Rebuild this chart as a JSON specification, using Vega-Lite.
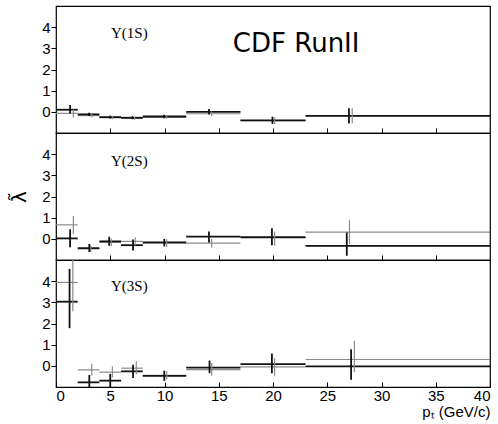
{
  "$schema": "https://vega.github.io/schema/vega-lite/v6.json",
  "padding": {"left": 9, "top": 5, "right": 5, "bottom": 5},
  "spacing": 0,
  "bounds": "flush",
  "datasets": {
    "points": [
      {"state": "1S", "frame": "CS", "ptlo": 0, "pthi": 2, "pt": 1.6, "lambda": -0.07, "lo": -0.27, "hi": 0.12},
      {"state": "1S", "frame": "CS", "ptlo": 2, "pthi": 4, "pt": 3.3, "lambda": -0.18, "lo": -0.26, "hi": -0.1},
      {"state": "1S", "frame": "CS", "ptlo": 4, "pthi": 6, "pt": 5.2, "lambda": -0.28, "lo": -0.35, "hi": -0.21},
      {"state": "1S", "frame": "CS", "ptlo": 6, "pthi": 8, "pt": 7.25, "lambda": -0.3, "lo": -0.37, "hi": -0.23},
      {"state": "1S", "frame": "CS", "ptlo": 8, "pthi": 12, "pt": 10.2, "lambda": -0.25, "lo": -0.33, "hi": -0.17},
      {"state": "1S", "frame": "CS", "ptlo": 12, "pthi": 17, "pt": 14.35, "lambda": -0.09, "lo": -0.2, "hi": 0.02},
      {"state": "1S", "frame": "CS", "ptlo": 17, "pthi": 23, "pt": 20.15, "lambda": -0.42, "lo": -0.58, "hi": -0.26},
      {"state": "1S", "frame": "CS", "ptlo": 23, "pthi": 40, "pt": 27.3, "lambda": -0.18, "lo": -0.54, "hi": 0.18},
      {"state": "1S", "frame": "HX", "ptlo": 0, "pthi": 2, "pt": 1.3, "lambda": 0.1, "lo": -0.08, "hi": 0.32},
      {"state": "1S", "frame": "HX", "ptlo": 2, "pthi": 4, "pt": 3.05, "lambda": -0.12, "lo": -0.2, "hi": -0.04},
      {"state": "1S", "frame": "HX", "ptlo": 4, "pthi": 6, "pt": 5.0, "lambda": -0.25, "lo": -0.32, "hi": -0.18},
      {"state": "1S", "frame": "HX", "ptlo": 6, "pthi": 8, "pt": 7.05, "lambda": -0.28, "lo": -0.35, "hi": -0.21},
      {"state": "1S", "frame": "HX", "ptlo": 8, "pthi": 12, "pt": 9.95, "lambda": -0.22, "lo": -0.3, "hi": -0.14},
      {"state": "1S", "frame": "HX", "ptlo": 12, "pthi": 17, "pt": 14.1, "lambda": 0.0, "lo": -0.13, "hi": 0.13},
      {"state": "1S", "frame": "HX", "ptlo": 17, "pthi": 23, "pt": 19.95, "lambda": -0.4, "lo": -0.57, "hi": -0.23},
      {"state": "1S", "frame": "HX", "ptlo": 23, "pthi": 40, "pt": 27.0, "lambda": -0.19, "lo": -0.55, "hi": 0.17},
      {"state": "2S", "frame": "CS", "ptlo": 0, "pthi": 2, "pt": 1.6, "lambda": 0.66, "lo": 0.23, "hi": 1.08},
      {"state": "2S", "frame": "CS", "ptlo": 2, "pthi": 4, "pt": 3.2, "lambda": -0.47, "lo": -0.62, "hi": -0.32},
      {"state": "2S", "frame": "CS", "ptlo": 4, "pthi": 6, "pt": 5.1, "lambda": -0.17, "lo": -0.35, "hi": 0.01},
      {"state": "2S", "frame": "CS", "ptlo": 6, "pthi": 8, "pt": 7.3, "lambda": -0.12, "lo": -0.32, "hi": 0.08},
      {"state": "2S", "frame": "CS", "ptlo": 8, "pthi": 12, "pt": 10.2, "lambda": -0.2, "lo": -0.38, "hi": -0.02},
      {"state": "2S", "frame": "CS", "ptlo": 12, "pthi": 17, "pt": 14.35, "lambda": -0.2, "lo": -0.41, "hi": 0.0},
      {"state": "2S", "frame": "CS", "ptlo": 17, "pthi": 23, "pt": 20.15, "lambda": 0.05, "lo": -0.33, "hi": 0.35},
      {"state": "2S", "frame": "CS", "ptlo": 23, "pthi": 40, "pt": 27.05, "lambda": 0.32, "lo": -0.25, "hi": 0.9},
      {"state": "2S", "frame": "HX", "ptlo": 0, "pthi": 2, "pt": 1.3, "lambda": 0.02, "lo": -0.4, "hi": 0.45},
      {"state": "2S", "frame": "HX", "ptlo": 2, "pthi": 4, "pt": 3.07, "lambda": -0.44, "lo": -0.62, "hi": -0.24},
      {"state": "2S", "frame": "HX", "ptlo": 4, "pthi": 6, "pt": 4.9, "lambda": -0.12, "lo": -0.33, "hi": 0.1},
      {"state": "2S", "frame": "HX", "ptlo": 6, "pthi": 8, "pt": 7.1, "lambda": -0.3, "lo": -0.55, "hi": -0.03},
      {"state": "2S", "frame": "HX", "ptlo": 8, "pthi": 12, "pt": 9.98, "lambda": -0.17, "lo": -0.36, "hi": 0.0},
      {"state": "2S", "frame": "HX", "ptlo": 12, "pthi": 17, "pt": 14.1, "lambda": 0.1, "lo": -0.17, "hi": 0.35},
      {"state": "2S", "frame": "HX", "ptlo": 17, "pthi": 23, "pt": 19.9, "lambda": 0.08, "lo": -0.3, "hi": 0.5},
      {"state": "2S", "frame": "HX", "ptlo": 23, "pthi": 40, "pt": 26.8, "lambda": -0.33, "lo": -0.8, "hi": 0.3},
      {"state": "3S", "frame": "CS", "ptlo": 0, "pthi": 2, "pt": 1.55, "lambda": 3.94, "lo": 2.58, "hi": 5.3},
      {"state": "3S", "frame": "CS", "ptlo": 2, "pthi": 4, "pt": 3.3, "lambda": -0.19, "lo": -0.46, "hi": 0.1},
      {"state": "3S", "frame": "CS", "ptlo": 4, "pthi": 6, "pt": 5.2, "lambda": -0.3, "lo": -0.55, "hi": -0.03},
      {"state": "3S", "frame": "CS", "ptlo": 6, "pthi": 8, "pt": 7.4, "lambda": -0.11, "lo": -0.4, "hi": 0.22},
      {"state": "3S", "frame": "CS", "ptlo": 8, "pthi": 12, "pt": 10.2, "lambda": -0.45, "lo": -0.65, "hi": -0.25},
      {"state": "3S", "frame": "CS", "ptlo": 12, "pthi": 17, "pt": 14.35, "lambda": -0.18, "lo": -0.47, "hi": 0.13},
      {"state": "3S", "frame": "CS", "ptlo": 17, "pthi": 23, "pt": 20.15, "lambda": -0.05, "lo": -0.47, "hi": 0.37},
      {"state": "3S", "frame": "CS", "ptlo": 23, "pthi": 40, "pt": 27.5, "lambda": 0.3, "lo": -0.3, "hi": 1.19},
      {"state": "3S", "frame": "HX", "ptlo": 0, "pthi": 2, "pt": 1.25, "lambda": 3.03, "lo": 1.78, "hi": 4.58},
      {"state": "3S", "frame": "HX", "ptlo": 2, "pthi": 4, "pt": 3.07, "lambda": -0.78, "lo": -1.15, "hi": -0.43},
      {"state": "3S", "frame": "HX", "ptlo": 4, "pthi": 6, "pt": 5.0, "lambda": -0.7, "lo": -1.05, "hi": -0.38},
      {"state": "3S", "frame": "HX", "ptlo": 6, "pthi": 8, "pt": 7.1, "lambda": -0.26, "lo": -0.58, "hi": 0.05},
      {"state": "3S", "frame": "HX", "ptlo": 8, "pthi": 12, "pt": 9.98, "lambda": -0.47, "lo": -0.71, "hi": -0.23},
      {"state": "3S", "frame": "HX", "ptlo": 12, "pthi": 17, "pt": 14.15, "lambda": -0.08, "lo": -0.35, "hi": 0.25},
      {"state": "3S", "frame": "HX", "ptlo": 17, "pthi": 23, "pt": 19.9, "lambda": 0.08, "lo": -0.35, "hi": 0.58},
      {"state": "3S", "frame": "HX", "ptlo": 23, "pthi": 40, "pt": 27.2, "lambda": -0.03, "lo": -0.66, "hi": 0.78}
    ],
    "labels": [
      {"state": "1S", "text": "Υ(1S)", "pt": 5.07, "lambda": 3.48},
      {"state": "2S", "text": "Υ(2S)", "pt": 5.07, "lambda": 3.46},
      {"state": "3S", "text": "Υ(3S)", "pt": 5.07, "lambda": 3.52}
    ]
  },
  "config": {
    "view": {"stroke": "#000", "strokeWidth": 1.2},
    "axis": {
      "grid": false, "domain": false, "labelOverlap": false,
      "labelFont": "Liberation Sans", "labelFontSize": 15, "labelColor": "#000",
      "tickColor": "#000", "tickWidth": 1,
      "titleFont": "Liberation Sans", "titleFontWeight": "normal", "titleColor": "#000"
    }
  },
  "vconcat": [
    {
      "width": 434, "height": 127,
      "layer": [
        {
          "data": {"name": "points"},
          "transform": [{"filter": "datum.state === '1S'"}],
          "mark": {"type": "rule", "clip": true},
          "encoding": {
            "x": {"field": "ptlo", "type": "quantitative", "scale": {"domain": [0, 40], "nice": false},
                  "axis": {"values": [5, 10, 15, 20, 25, 30, 35], "labels": false, "tickSize": -5, "title": null}},
            "x2": {"field": "pthi"},
            "y": {"field": "lambda", "type": "quantitative", "scale": {"domain": [-1, 5], "nice": false},
                  "axis": {"values": [0, 1, 2, 3, 4], "tickSize": 5, "labelPadding": 1, "title": null}},
            "color": {"field": "frame", "type": "nominal", "scale": {"domain": ["CS", "HX"], "range": ["#8a8a8a", "#111111"]}, "legend": null},
            "strokeWidth": {"field": "frame", "type": "nominal", "scale": {"domain": ["CS", "HX"], "range": [1.2, 1.8]}, "legend": null}
          }
        },
        {
          "data": {"name": "points"},
          "transform": [{"filter": "datum.state === '1S'"}],
          "mark": {"type": "rule", "clip": true},
          "encoding": {
            "x": {"field": "pt", "type": "quantitative", "scale": {"domain": [0, 40], "nice": false},
                  "axis": {"values": [5, 10, 15, 20, 25, 30, 35], "labels": false, "tickSize": -5, "title": null}},
            "y": {"field": "lo", "type": "quantitative", "scale": {"domain": [-1, 5], "nice": false},
                  "axis": {"values": [0, 1, 2, 3, 4], "tickSize": 5, "labelPadding": 1, "title": null}},
            "y2": {"field": "hi"},
            "color": {"field": "frame", "type": "nominal", "scale": {"domain": ["CS", "HX"], "range": ["#8a8a8a", "#111111"]}, "legend": null},
            "strokeWidth": {"field": "frame", "type": "nominal", "scale": {"domain": ["CS", "HX"], "range": [1.2, 1.8]}, "legend": null}
          }
        },
        {
          "data": {"name": "labels"},
          "transform": [{"filter": "datum.state === '1S'"}],
          "mark": {"type": "text", "align": "left", "baseline": "alphabetic", "font": "Liberation Serif", "fontSize": 15, "color": "#000"},
          "encoding": {
            "x": {"field": "pt", "type": "quantitative", "scale": {"domain": [0, 40], "nice": false},
                  "axis": {"values": [5, 10, 15, 20, 25, 30, 35], "labels": false, "tickSize": -5, "title": null}},
            "y": {"field": "lambda", "type": "quantitative", "scale": {"domain": [-1, 5], "nice": false},
                  "axis": {"values": [0, 1, 2, 3, 4], "tickSize": 5, "labelPadding": 1, "title": null}},
            "text": {"field": "text"}
          }
        },
        {
          "data": {"values": [{"text": "CDF RunII", "pt": 16.3, "lambda": 2.85}]},
          "mark": {"type": "text", "align": "left", "baseline": "alphabetic", "font": "DejaVu Sans", "fontSize": 26, "color": "#000"},
          "encoding": {
            "x": {"field": "pt", "type": "quantitative", "scale": {"domain": [0, 40], "nice": false},
                  "axis": {"values": [5, 10, 15, 20, 25, 30, 35], "labels": false, "tickSize": -5, "title": null}},
            "y": {"field": "lambda", "type": "quantitative", "scale": {"domain": [-1, 5], "nice": false},
                  "axis": {"values": [0, 1, 2, 3, 4], "tickSize": 5, "labelPadding": 1, "title": null}},
            "text": {"field": "text"}
          }
        }
      ]
    },
    {
      "width": 434, "height": 127,
      "layer": [
        {
          "data": {"name": "points"},
          "transform": [{"filter": "datum.state === '2S'"}],
          "mark": {"type": "rule", "clip": true},
          "encoding": {
            "x": {"field": "ptlo", "type": "quantitative", "scale": {"domain": [0, 40], "nice": false},
                  "axis": {"values": [5, 10, 15, 20, 25, 30, 35], "labels": false, "tickSize": -5, "title": null}},
            "x2": {"field": "pthi"},
            "y": {"field": "lambda", "type": "quantitative", "scale": {"domain": [-1, 5], "nice": false},
                  "axis": {"values": [0, 1, 2, 3, 4], "tickSize": 5, "labelPadding": 1, "title": "λ̃", "titleFont": "DejaVu Sans", "titleFontSize": 20, "titlePadding": 12}},
            "color": {"field": "frame", "type": "nominal", "scale": {"domain": ["CS", "HX"], "range": ["#8a8a8a", "#111111"]}, "legend": null},
            "strokeWidth": {"field": "frame", "type": "nominal", "scale": {"domain": ["CS", "HX"], "range": [1.2, 1.8]}, "legend": null}
          }
        },
        {
          "data": {"name": "points"},
          "transform": [{"filter": "datum.state === '2S'"}],
          "mark": {"type": "rule", "clip": true},
          "encoding": {
            "x": {"field": "pt", "type": "quantitative", "scale": {"domain": [0, 40], "nice": false},
                  "axis": {"values": [5, 10, 15, 20, 25, 30, 35], "labels": false, "tickSize": -5, "title": null}},
            "y": {"field": "lo", "type": "quantitative", "scale": {"domain": [-1, 5], "nice": false},
                  "axis": {"values": [0, 1, 2, 3, 4], "tickSize": 5, "labelPadding": 1, "title": "λ̃", "titleFont": "DejaVu Sans", "titleFontSize": 20, "titlePadding": 12}},
            "y2": {"field": "hi"},
            "color": {"field": "frame", "type": "nominal", "scale": {"domain": ["CS", "HX"], "range": ["#8a8a8a", "#111111"]}, "legend": null},
            "strokeWidth": {"field": "frame", "type": "nominal", "scale": {"domain": ["CS", "HX"], "range": [1.2, 1.8]}, "legend": null}
          }
        },
        {
          "data": {"name": "labels"},
          "transform": [{"filter": "datum.state === '2S'"}],
          "mark": {"type": "text", "align": "left", "baseline": "alphabetic", "font": "Liberation Serif", "fontSize": 15, "color": "#000"},
          "encoding": {
            "x": {"field": "pt", "type": "quantitative", "scale": {"domain": [0, 40], "nice": false},
                  "axis": {"values": [5, 10, 15, 20, 25, 30, 35], "labels": false, "tickSize": -5, "title": null}},
            "y": {"field": "lambda", "type": "quantitative", "scale": {"domain": [-1, 5], "nice": false},
                  "axis": {"values": [0, 1, 2, 3, 4], "tickSize": 5, "labelPadding": 1, "title": "λ̃", "titleFont": "DejaVu Sans", "titleFontSize": 20, "titlePadding": 12}},
            "text": {"field": "text"}
          }
        }
      ]
    },
    {
      "width": 434, "height": 127,
      "layer": [
        {
          "data": {"name": "points"},
          "transform": [{"filter": "datum.state === '3S'"}],
          "mark": {"type": "rule", "clip": true},
          "encoding": {
            "x": {"field": "ptlo", "type": "quantitative", "scale": {"domain": [0, 40], "nice": false},
                  "axis": {"values": [0, 5, 10, 15, 20, 25, 30, 35, 40], "tickSize": -5, "labelPadding": 6, "title": "pₜ  (GeV/c)", "titleFontSize": 15, "titleAnchor": "end", "titlePadding": 1}},
            "x2": {"field": "pthi"},
            "y": {"field": "lambda", "type": "quantitative", "scale": {"domain": [-1, 5], "nice": false},
                  "axis": {"values": [0, 1, 2, 3, 4], "tickSize": 5, "labelPadding": 1, "title": null}},
            "color": {"field": "frame", "type": "nominal", "scale": {"domain": ["CS", "HX"], "range": ["#8a8a8a", "#111111"]}, "legend": null},
            "strokeWidth": {"field": "frame", "type": "nominal", "scale": {"domain": ["CS", "HX"], "range": [1.2, 1.8]}, "legend": null}
          }
        },
        {
          "data": {"name": "points"},
          "transform": [{"filter": "datum.state === '3S'"}],
          "mark": {"type": "rule", "clip": true},
          "encoding": {
            "x": {"field": "pt", "type": "quantitative", "scale": {"domain": [0, 40], "nice": false},
                  "axis": {"values": [0, 5, 10, 15, 20, 25, 30, 35, 40], "tickSize": -5, "labelPadding": 6, "title": "pₜ  (GeV/c)", "titleFontSize": 15, "titleAnchor": "end", "titlePadding": 1}},
            "y": {"field": "lo", "type": "quantitative", "scale": {"domain": [-1, 5], "nice": false},
                  "axis": {"values": [0, 1, 2, 3, 4], "tickSize": 5, "labelPadding": 1, "title": null}},
            "y2": {"field": "hi"},
            "color": {"field": "frame", "type": "nominal", "scale": {"domain": ["CS", "HX"], "range": ["#8a8a8a", "#111111"]}, "legend": null},
            "strokeWidth": {"field": "frame", "type": "nominal", "scale": {"domain": ["CS", "HX"], "range": [1.2, 1.8]}, "legend": null}
          }
        },
        {
          "data": {"name": "labels"},
          "transform": [{"filter": "datum.state === '3S'"}],
          "mark": {"type": "text", "align": "left", "baseline": "alphabetic", "font": "Liberation Serif", "fontSize": 15, "color": "#000"},
          "encoding": {
            "x": {"field": "pt", "type": "quantitative", "scale": {"domain": [0, 40], "nice": false},
                  "axis": {"values": [0, 5, 10, 15, 20, 25, 30, 35, 40], "tickSize": -5, "labelPadding": 6, "title": "pₜ  (GeV/c)", "titleFontSize": 15, "titleAnchor": "end", "titlePadding": 1}},
            "y": {"field": "lambda", "type": "quantitative", "scale": {"domain": [-1, 5], "nice": false},
                  "axis": {"values": [0, 1, 2, 3, 4], "tickSize": 5, "labelPadding": 1, "title": null}},
            "text": {"field": "text"}
          }
        }
      ]
    }
  ]
}
